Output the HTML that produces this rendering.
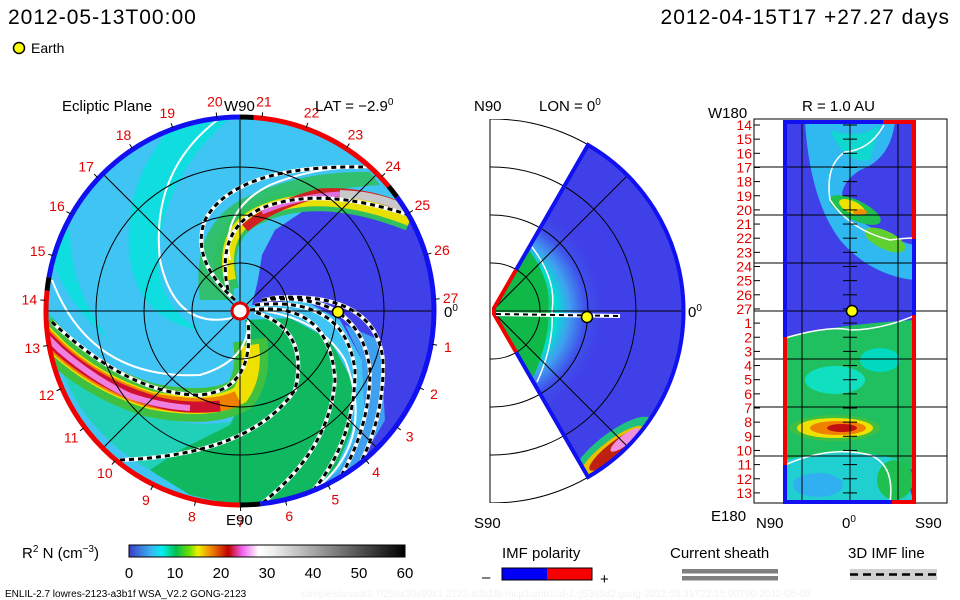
<!DOCTYPE html>
<html><head><meta charset="utf-8"><style>
html,body{margin:0;padding:0;background:#fff}
svg{display:block}
text{font-family:"Liberation Sans",sans-serif}
</style></head><body>
<svg id="s" width="960" height="600" viewBox="0 0 960 600">
<defs>
<clipPath id="disk"><circle cx="240" cy="311" r="193"/></clipPath>
<clipPath id="wedge"><path d="M492,311 L588,145 A192,192 0 0 1 588,477 Z"/></clipPath>
<clipPath id="mframe"><rect x="490" y="119" width="260" height="384"/></clipPath>
<clipPath id="rect"><rect x="785" y="122" width="129" height="380"/></clipPath>
<linearGradient id="cbar" x1="0" x2="1" y1="0" y2="0">
<stop offset="0" stop-color="#3c3cc8"/><stop offset="0.08" stop-color="#3cb4f0"/><stop offset="0.12" stop-color="#00f0f0"/>
<stop offset="0.17" stop-color="#00c050"/><stop offset="0.22" stop-color="#70e000"/><stop offset="0.25" stop-color="#f0f000"/>
<stop offset="0.3" stop-color="#f08000"/><stop offset="0.36" stop-color="#c00000"/><stop offset="0.41" stop-color="#f060f0"/>
<stop offset="0.47" stop-color="#ffffff"/><stop offset="0.52" stop-color="#f0f0f0"/><stop offset="1" stop-color="#000000"/>
</linearGradient>
<radialGradient id="apex" cx="492" cy="311" r="110" gradientUnits="userSpaceOnUse">
<stop offset="0" stop-color="#10b040"/><stop offset="0.48" stop-color="#20c050"/><stop offset="0.58" stop-color="#00e0d0"/>
<stop offset="0.7" stop-color="#40a0f0"/><stop offset="0.85" stop-color="#4050ea"/><stop offset="1" stop-color="#4040e8"/>
</radialGradient>
</defs>

<text x="8" y="24" font-size="21" letter-spacing="1">2012-05-13T00:00</text>
<text x="950" y="24" font-size="21" letter-spacing="1" text-anchor="end">2012-04-15T17 +27.27 days</text>
<circle cx="19" cy="48" r="5.5" fill="#ffff00" stroke="#000" stroke-width="1.5"/>
<text x="31" y="53" font-size="14">Earth</text>

<g>
<g clip-path="url(#disk)">
<rect x="40" y="110" width="400" height="400" fill="#40c4f4"/>
<path d="M180,118 Q120,180 130,260 Q140,320 200,330 Q150,300 160,240 Q170,170 230,118 Z" fill="#10dde0"/>
<path d="M47,240 Q60,300 110,340 Q70,290 70,230 Z" fill="#10dde0"/>
<path d="M47,311 Q60,420 150,470 Q200,505 240,505 L240,420 Q150,440 90,360 Z" fill="#20d0b8"/>
<path d="M252,305 L258,280 L262,255 L275,230 L305,210 L350,203 L395,210 L425,235 L440,300 L440,420 L400,460 L320,510 L300,500 L340,470 L365,420 L362,360 L340,320 L300,298 L265,305 Z" fill="#4040e8"/>
<path d="M245,320 L290,318 L330,340 L352,380 L352,430 L335,470 L300,500 L240,506 L190,495 L150,470 L180,450 L230,425 L252,380 Z" fill="#10b860"/>
<path d="M300,500 L340,470 L365,420 L362,360 L345,325 L380,340 L385,420 L350,480 Z" fill="#40a0f0"/>
<path d="M200,300 Q190,230 240,200 Q300,170 370,172 L380,185 Q300,190 260,215 Q225,245 235,300 Z" fill="#30c070"/>
<path d="M228,290 Q215,230 260,212 Q320,185 410,220" fill="none" stroke="#30c060" stroke-width="22"/>
<path d="M230,280 Q220,230 260,212 Q320,185 410,220" fill="none" stroke="#e8e000" stroke-width="12"/>
<path d="M245,228 Q270,206 320,193 Q370,190 412,212" fill="none" stroke="#d02020" stroke-width="9"/>
<path d="M262,212 Q300,196 340,194 Q380,195 412,212" fill="none" stroke="#e070e0" stroke-width="5"/>
<path d="M340,194 Q380,195 412,212" fill="none" stroke="#c8c8c8" stroke-width="8"/>
<path d="M250,340 Q255,375 240,395 Q210,412 150,400 Q100,385 60,350 L40,330" fill="none" stroke="#40c040" stroke-width="34"/>
<path d="M250,345 Q254,375 240,395 Q210,412 150,400 Q100,385 60,350 L40,330" fill="none" stroke="#f0e000" stroke-width="18"/>
<path d="M238,398 Q210,412 150,400 Q100,385 60,350 L40,330" fill="none" stroke="#f08000" stroke-width="15"/>
<path d="M220,406 Q180,410 150,400 Q100,385 60,350 L40,330" fill="none" stroke="#d01030" stroke-width="11"/>
<path d="M190,408 Q160,406 130,396 Q95,380 60,350 L40,330" fill="none" stroke="#f080e0" stroke-width="6"/>
<g fill="none" stroke="#fff" stroke-width="2">
<path d="M52,280 Q90,380 200,375 Q250,360 248,320"/>
<path d="M220,118 Q150,170 160,260 Q175,330 232,318"/>
<path d="M300,500 Q380,450 345,360 Q320,318 258,310"/>
<path d="M230,260 Q220,210 270,185 Q330,160 400,170"/>
</g>
<g fill="none" stroke="#fff" stroke-width="4">
<path d="M235,300 Q190,260 205,220 Q235,165 363,167"/>
<path d="M228,290 Q215,230 262,208 Q320,185 412,216"/>
<path d="M52,322 Q130,395 200,395 Q255,390 248,322"/>
<path d="M250,310 Q330,300 335,380 Q330,450 260,505"/>
<path d="M255,305 Q345,295 355,370 Q355,450 300,505"/>
<path d="M262,300 Q360,290 370,370 Q370,440 325,500"/>
<path d="M270,298 Q375,290 383,360 Q385,430 345,490"/>
<path d="M120,460 Q250,455 295,390 Q310,330 255,312"/>
</g>
<g fill="none" stroke="#000" stroke-width="3" stroke-dasharray="5,4">
<path d="M235,300 Q190,260 205,220 Q235,165 363,167"/>
<path d="M228,290 Q215,230 262,208 Q320,185 412,216"/>
<path d="M52,322 Q130,395 200,395 Q255,390 248,322"/>
<path d="M250,310 Q330,300 335,380 Q330,450 260,505"/>
<path d="M255,305 Q345,295 355,370 Q355,450 300,505"/>
<path d="M262,300 Q360,290 370,370 Q370,440 325,500"/>
<path d="M270,298 Q375,290 383,360 Q385,430 345,490"/>
<path d="M120,460 Q250,455 295,390 Q310,330 255,312"/>
</g>
<g fill="none" stroke="#000" stroke-width="1">
<circle cx="240" cy="311" r="48"/><circle cx="240" cy="311" r="96"/><circle cx="240" cy="311" r="144"/>
<line x1="40" y1="311" x2="440" y2="311"/><line x1="240" y1="110" x2="240" y2="510"/>
<line x1="100" y1="171" x2="380" y2="451"/><line x1="100" y1="451" x2="380" y2="171"/>
</g>
</g>
<g id="rim" fill="none" stroke-width="5"></g>
<circle cx="240" cy="311" r="8" fill="#fff" stroke="#e00000" stroke-width="3"/>
<circle cx="338" cy="312" r="5.5" fill="#ffff00" stroke="#000" stroke-width="1.5"/>
<g id="eclabels" font-size="14" fill="#e00000" text-anchor="middle"></g>
<text x="62" y="111" font-size="15">Ecliptic Plane</text>
<text x="224" y="111" font-size="15">W90</text>
<text x="315" y="111" font-size="15">LAT = −2.9<tspan font-size="10" dy="-6">0</tspan></text>
<text x="444" y="317" font-size="15">0<tspan font-size="10" dy="-6">0</tspan></text>
<text x="226" y="525" font-size="15">E90</text>
</g>

<g>
<line x1="490" y1="119" x2="490" y2="503" stroke="#000" stroke-width="1"/>
<g clip-path="url(#mframe)" fill="none" stroke="#000" stroke-width="1">
<circle cx="492" cy="311" r="48"/><circle cx="492" cy="311" r="96"/><circle cx="492" cy="311" r="144"/><circle cx="492" cy="311" r="192"/>
</g>
<g clip-path="url(#wedge)">
<rect x="490" y="119" width="200" height="384" fill="url(#apex)"/>
<path d="M492,311 L528,249 Q552,280 548,311 Q550,340 532,380 Z" fill="#10b848"/>
<path d="M532,247 Q557,280 552,311 Q554,345 537,382" fill="none" stroke="#fff" stroke-width="1.5"/>
<ellipse cx="612" cy="450" rx="50" ry="16" transform="rotate(-38 612 450)" fill="#20c080"/>
<ellipse cx="612" cy="452" rx="40" ry="11" transform="rotate(-38 612 452)" fill="#e8c000"/>
<ellipse cx="615" cy="450" rx="32" ry="8" transform="rotate(-38 615 450)" fill="#c02010"/>
<ellipse cx="625" cy="440" rx="18" ry="5" transform="rotate(-38 625 440)" fill="#f090e0"/>
<g fill="none" stroke="#000" stroke-width="1">
<circle cx="492" cy="311" r="48"/><circle cx="492" cy="311" r="96"/><circle cx="492" cy="311" r="144"/>
<line x1="492" y1="311" x2="684" y2="311"/>
<line x1="492" y1="311" x2="628" y2="175"/><line x1="492" y1="311" x2="628" y2="447"/>
</g>
</g>
<path d="M516,270 L588,145 A192,192 0 0 1 588,477 L516,352" fill="none" stroke="#1010f0" stroke-width="4"/>
<path d="M516,270 L494,308 L494,314 L516,352" fill="none" stroke="#f00000" stroke-width="4"/>
<line x1="496" y1="314" x2="620" y2="316" stroke="#fff" stroke-width="4"/>
<line x1="496" y1="314" x2="620" y2="316" stroke="#000" stroke-width="2" stroke-dasharray="5,4"/>
<circle cx="587" cy="317" r="5.5" fill="#ffff00" stroke="#000" stroke-width="1.5"/>
<text x="474" y="111" font-size="15">N90</text>
<text x="539" y="111" font-size="15">LON = 0<tspan font-size="10" dy="-6">0</tspan></text>
<text x="688" y="317" font-size="15">0<tspan font-size="10" dy="-6">0</tspan></text>
<text x="474" y="528" font-size="15">S90</text>
</g>

<g>
<rect x="754" y="119" width="193" height="384" fill="none" stroke="#000" stroke-width="1"/>
<g clip-path="url(#rect)">
<rect x="785" y="122" width="129" height="380" fill="#4040e8"/>
<path d="M805,122 L895,122 Q890,160 860,170 Q830,190 850,215 Q890,240 914,245 L914,280 Q870,275 840,240 Q810,200 805,122 Z" fill="#30b8f0"/>
<path d="M830,130 Q860,140 880,125 L870,160 Q845,165 830,130 Z" fill="#10d8d0"/>
<ellipse cx="855" cy="210" rx="28" ry="10" transform="rotate(25 855 210)" fill="#20c050"/>
<ellipse cx="885" cy="240" rx="22" ry="9" transform="rotate(25 885 240)" fill="#60d030"/>
<ellipse cx="852" cy="207" rx="14" ry="6" transform="rotate(25 852 207)" fill="#f0e000"/>
<ellipse cx="860" cy="212" rx="7" ry="3" fill="#f09000"/>
<path d="M785,338 Q830,325 914,320 L914,470 Q850,450 785,470 Z" fill="#20c060"/>
<ellipse cx="835" cy="380" rx="30" ry="14" fill="#10e0c0"/>
<ellipse cx="880" cy="360" rx="20" ry="12" fill="#00d8c0"/>
<path d="M785,460 Q850,445 900,460 L914,502 L785,502 Z" fill="#20d0d0"/>
<ellipse cx="818" cy="485" rx="25" ry="12" fill="#30b0f0"/>
<ellipse cx="895" cy="480" rx="18" ry="20" fill="#20c050"/>
<ellipse cx="835" cy="428" rx="45" ry="13" fill="#40c040"/>
<ellipse cx="835" cy="428" rx="38" ry="10" fill="#f0e000"/>
<ellipse cx="838" cy="428" rx="28" ry="7" fill="#f08000"/>
<ellipse cx="842" cy="428" rx="15" ry="4" fill="#c01010"/>
<g fill="none" stroke="#fff" stroke-width="1.5">
<path d="M884,125 Q870,150 845,152 Q825,165 830,200 Q850,230 890,240 Q905,238 914,238"/>
<path d="M785,338 Q830,325 850,330 Q880,330 914,316"/>
<path d="M785,465 Q830,445 870,455 Q895,465 890,502"/>
</g>
<g stroke="#000" stroke-width="1">
<line x1="802" y1="122" x2="802" y2="502"/><line x1="850" y1="122" x2="850" y2="502"/><line x1="898" y1="122" x2="898" y2="502"/>
</g>
</g>
<g id="rgrid" stroke="#000" stroke-width="1"></g>
<g fill="none" stroke-width="4">
<path d="M785,337 L785,122 L883,122" stroke="#1010f0"/>
<path d="M883,122 L914,122 L914,239" stroke="#f00000"/>
<path d="M914,239 L914,315" stroke="#1010f0"/>
<path d="M914,315 L914,502 L892,502" stroke="#f00000"/>
<path d="M892,502 L785,502 L785,465" stroke="#1010f0"/>
<path d="M785,465 L785,337" stroke="#f00000"/>
</g>
<circle cx="852" cy="311" r="5.5" fill="#ffff00" stroke="#000" stroke-width="1.5"/>
<g id="rlabels" font-size="14" fill="#e00000" text-anchor="end"></g>
<text x="802" y="111" font-size="15">R = 1.0 AU</text>
<text x="708" y="118" font-size="15">W180</text>
<text x="711" y="521" font-size="15">E180</text>
<text x="756" y="528" font-size="15">N90</text>
<text x="842" y="528" font-size="15">0<tspan font-size="10" dy="-6">0</tspan></text>
<text x="915" y="528" font-size="15">S90</text>
</g>

<g>
<text x="22" y="558" font-size="15">R<tspan font-size="10" dy="-6">2</tspan><tspan dy="6"> N (cm</tspan><tspan font-size="10" dy="-6">−3</tspan><tspan dy="6">)</tspan></text>
<rect x="129" y="545" width="276" height="12" fill="url(#cbar)" stroke="#000" stroke-width="1"/>
<g id="cbticks" font-size="15" text-anchor="middle"></g>
</g>
<g>
<text x="502" y="558" font-size="15">IMF polarity</text>
<text x="482" y="582" font-size="15">–</text>
<rect x="502" y="568" width="45" height="12" fill="#0000f8"/>
<rect x="547" y="568" width="45" height="12" fill="#f80000"/>
<rect x="502" y="568" width="90" height="12" fill="none" stroke="#000"/>
<text x="600" y="584" font-size="15">+</text>
</g>
<g>
<text x="670" y="558" font-size="15">Current sheath</text>
<rect x="682" y="569" width="96" height="4.5" fill="#808080"/>
<rect x="682" y="576" width="96" height="4.5" fill="#808080"/>
</g>
<g>
<text x="848" y="558" font-size="15">3D IMF line</text>
<rect x="850" y="569" width="87" height="11" fill="#d0d0d0"/>
<line x1="850" y1="574.5" x2="937" y2="574.5" stroke="#000" stroke-width="2.5" stroke-dasharray="8,5"/>
</g>
<text x="5" y="597" font-size="10">ENLIL-2.7 lowres-2123-a3b1f WSA_V2.2 GONG-2123</text>
<text x="300" y="597" font-size="10" fill="#f2f2f2">xamples/wsadr2.7/256x30x90x1.2123-a3b1f8-mcp1umn1cd-1.g53q5d2.gong-2012:03:31T22:15:00T00   2012-05-08</text>
</svg>
<script>
const ecLabels = ["27","1","2","3","4","5","6","7","8","9","10","11","12","13","14","15","16","17","18","19","20","21","22","23","24","25","26"];
const cbTicks = [0,10,20,30,40,50,60];
const dayLabels = ["14","15","16","17","18","19","20","21","22","23","24","25","26","27","1","2","3","4","5","6","7","8","9","10","11","12","13"];
const rimSegs = [[90,170,"#1010f0"],[170,174,"#000"],[174,270,"#f00000"],[270,276,"#000"],[276,396,"#1010f0"],[396,400,"#000"],[400,446,"#f00000"],[446,450,"#000"]];
const NS="http://www.w3.org/2000/svg";
const cx=240, cy=311, R=193;
function pt(r,a){const t=a*Math.PI/180;return [cx+r*Math.cos(t), cy-r*Math.sin(t)];}
const rim=document.getElementById('rim');
rimSegs.forEach(s=>{
  const p=document.createElementNS(NS,'path');
  const a=pt(R+1,s[0]), b=pt(R+1,s[1]);
  const large=(s[1]-s[0])>180?1:0;
  p.setAttribute('d',`M${a[0]},${a[1]} A${R+1},${R+1} 0 ${large} 0 ${b[0]},${b[1]}`);
  p.setAttribute('stroke',s[2]);
  
  
  rim.appendChild(p);
});
const ecg=document.getElementById('eclabels');
ecLabels.forEach((l,i)=>{
  const a=3.5-i*360/27;
  const q=pt(211,a);
  const t=document.createElementNS(NS,'text');
  t.setAttribute('x',q[0]);t.setAttribute('y',q[1]+5);t.textContent=l;
  
  
  ecg.appendChild(t);
  const p1=pt(R+2,a),p2=pt(R+7,a);
  const ln=document.createElementNS(NS,'line');
  ln.setAttribute('x1',p1[0]);ln.setAttribute('y1',p1[1]);ln.setAttribute('x2',p2[0]);ln.setAttribute('y2',p2[1]);
  ln.setAttribute('stroke','#000');
  
  
  ecg.appendChild(ln);
});
const cbg=document.getElementById('cbticks');
cbTicks.forEach(v=>{
  const x=129+v/60*276;
  const t=document.createElementNS(NS,'text');
  t.setAttribute('x',x);t.setAttribute('y',578);t.textContent=v;
  
  
  cbg.appendChild(t);
});
const rl=document.getElementById('rlabels'), rg=document.getElementById('rgrid');
dayLabels.forEach((l,i)=>{
  const y=125+i*14.15;
  const t=document.createElementNS(NS,'text');
  t.setAttribute('x',752);t.setAttribute('y',y+5);t.textContent=l;
  
  
  rl.appendChild(t);
  const ln=document.createElementNS(NS,'line');
  ln.setAttribute('x1',754);ln.setAttribute('x2',760);ln.setAttribute('y1',y);ln.setAttribute('y2',y);
  
  
  rg.appendChild(ln);
  const ln2=document.createElementNS(NS,'line');
  ln2.setAttribute('x1',843);ln2.setAttribute('x2',857);ln2.setAttribute('y1',y);ln2.setAttribute('y2',y);
  
  
  rg.appendChild(ln2);
});
[167,215,263,311,359,407,456].forEach(y=>{
  const ln=document.createElementNS(NS,'line');
  ln.setAttribute('x1',754);ln.setAttribute('x2',947);ln.setAttribute('y1',y);ln.setAttribute('y2',y);
  
  
  rg.appendChild(ln);
});
</script>
</body></html>
